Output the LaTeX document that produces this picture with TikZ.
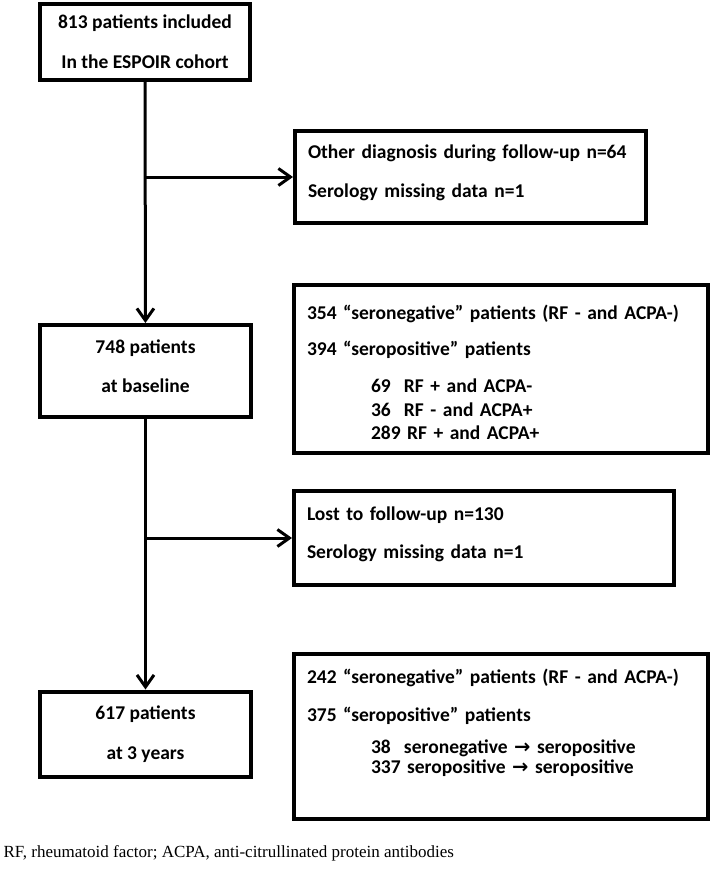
\documentclass[tikz,border=0pt]{standalone}
\usepackage{fontspec}
\setmainfont{Carlito}
\newfontfamily\notefont{Liberation Serif}
\newfontfamily\arrowfont{DejaVu Sans}
\usetikzlibrary{arrows.meta,positioning}

\begin{document}
\begin{tikzpicture}[x=1pt,y=-1pt,
	every node/.style={font=\bfseries\fontsize{19.5}{23}\selectfont},
	box/.style={draw,rectangle,line width=4pt,align=center,inner sep=0pt},
	sidebox/.style={draw,rectangle,line width=4pt,align=left,inner xsep=13pt,inner ysep=0pt},
	flow/.style={line width=3pt,-{Straight Barb[length=12pt,width=17pt]}}]
			\useasboundingbox (0,0) rectangle (711,872);
			\node[box,minimum width=210,minimum height=76] (included)at(145,42) {813 patients included\\[17pt]In the ESPOIR cohort};
			\node[box,minimum width=211,minimum height=92] (baseline)at(145.5,371) {748 patients\\[16pt]at baseline\rule[-10pt]{0pt}{0pt}};
			\node[box,minimum width=211,minimum height=85] (threeyears)at(145.5,734) {617 patients\\[17pt]at 3 years};
			\node[sidebox,minimum width=351,minimum height=92,text width=325] (excluded)at(470.5,177) {Other diagnosis during follow-up n=64\\[16pt]Serology missing data n=1\rule[-11pt]{0pt}{0pt}};
			\node[sidebox,minimum width=414,minimum height=168,text width=388] (serobase)at(501,369) {\rule{0pt}{21pt}354 “seronegative” patients (RF - and ACPA-)\\[13pt]394 “seropositive” patients\\[14pt]\hspace*{64pt}\makebox[33pt][l]{69}RF + and ACPA-\\[1pt]\hspace*{64pt}\makebox[33pt][l]{36}RF - and ACPA+\\[0pt]\hspace*{64pt}289 RF + and ACPA+};
			\node[sidebox,minimum width=380,minimum height=94,text width=354] (lost)at(484,538) {Lost to follow-up n=130\\[15pt]Serology missing data n=1\rule[-11pt]{0pt}{0pt}};
			\node[sidebox,minimum width=414,minimum height=165,text width=388] (serothree)at(501,736) {242 “seronegative” patients (RF - and ACPA-)\\[15pt]375 “seropositive” patients\\[9pt]\hspace*{64pt}\makebox[33pt][l]{38}seronegative {\arrowfont →} seropositive\\[-3pt]\hspace*{64pt}337 seropositive {\arrowfont →} seropositive\rule[-30pt]{0pt}{0pt}};
			\node[anchor=base west,font=\notefont\fontsize{17}{20}\selectfont] (note)at(0,857) {RF, rheumatoid factor; ACPA, anti-citrullinated protein antibodies};
			\coordinate (split1) at (included.south |- excluded.west);
			\coordinate (split2) at (baseline.south |- lost.west);
			\draw[flow] (included) -- (baseline);
			\draw[flow] (split1) -- (excluded);
			\draw[flow] (baseline) -- (threeyears);
			\draw[flow] (split2) -- (lost);
			\end{tikzpicture}
\end{document}
